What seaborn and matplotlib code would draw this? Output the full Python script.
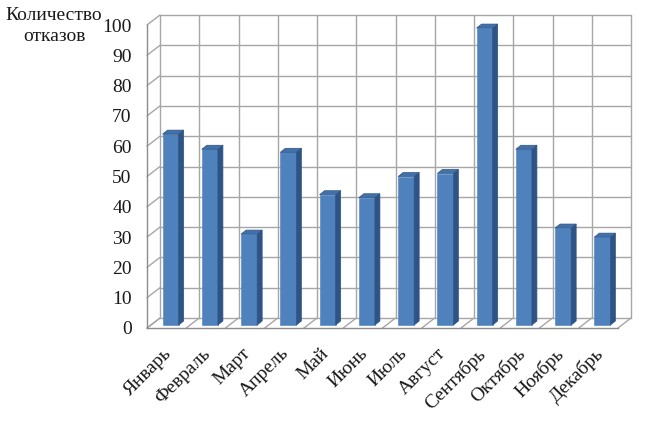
import matplotlib
matplotlib.use("Agg")
import matplotlib.pyplot as plt
import matplotlib.transforms as mtransforms
import seaborn as sns
import numpy as np
from matplotlib.patches import Polygon

# data
months = ["Январь", "Февраль", "Март", "Апрель", "Май", "Июнь",
          "Июль", "Август", "Сентябрь", "Октябрь", "Ноябрь", "Декабрь"]
failures = [63, 58, 30, 57, 43, 42, 49, 50, 98, 58, 32, 29]
y_ticks = list(range(0, 101, 10))
y_title = "Количество\nотказов"

FRONT = "#4F81BD"
SIDE = "#2E5486"
TOP = "#4270A8"
GRID = "#A6A6A6"
TEXT = "#1a1a1a"

sns.set_style("white")
plt.rcParams["font.family"] = ["Liberation Serif", "DejaVu Serif"]

W, H = 646, 438
fig = plt.figure(figsize=(W / 100, H / 100), dpi=100)
ax = fig.add_axes([147 / W, (H - 328) / H, 471 / W, 303 / H])

sns.barplot(x=months, y=failures, color=FRONT, saturation=1, width=0.41,
            ax=ax, zorder=3)
ax.set_xlim(-0.5, len(months) - 0.5)
ax.set_ylim(0, 100)

# pixel -> data unit scale
ux = 471 / len(months)
uy = 303 / 100
bx, by = 13 / ux, 10 / uy      # back wall offset
fx, fy = 4 / ux, 3 / uy        # bar front offset
dx, dy = 5 / ux, 4 / uy        # bar depth

x0, x1 = -0.5, len(months) - 0.5
kw = dict(color=GRID, lw=1, clip_on=False, zorder=1)
for t in y_ticks:
    ax.plot([x0 + bx, x1 + bx], [t + by, t + by], **kw)
    ax.plot([x0, x0 + bx], [t, t + by], **kw)
for b in np.arange(x0, x1 + 0.01, 1.0):
    ax.plot([b + bx, b + bx], [by, 100 + by], **kw)
    ax.plot([b, b + bx], [0, by], **kw)

# 3d look for the bars
for p in list(ax.patches):
    p.set_x(p.get_x() + fx)
    p.set_y(fy)
    p.set_edgecolor("#5b8cc6")
    p.set_linewidth(0.5)
    left = p.get_x()
    right = left + p.get_width()
    top = fy + p.get_height()
    ax.add_patch(Polygon([(right, fy), (right + dx, fy + dy),
                          (right + dx, top + dy), (right, top)],
                         closed=True, facecolor=SIDE, edgecolor=SIDE,
                         lw=0.5, zorder=3, clip_on=False))
    ax.add_patch(Polygon([(left, top), (right, top),
                          (right + dx, top + dy), (left + dx, top + dy)],
                         closed=True, facecolor=TOP, edgecolor=SIDE,
                         lw=0.5, zorder=3, clip_on=False))

for s in ["top", "right"]:
    ax.spines[s].set_visible(False)
for s in ["left", "bottom"]:
    ax.spines[s].set_color("#8C8C8C")
    ax.spines[s].set_linewidth(1)

ax.set_yticks(y_ticks)
ax.set_yticklabels([str(t) for t in y_ticks])
ax.tick_params(axis="y", direction="out", length=5, color="#8C8C8C",
               labelsize=14, pad=6, labelcolor=TEXT)
ax.set_xticks(range(len(months)))
ax.set_xticklabels(months, rotation=45, ha="right", rotation_mode="anchor")
ax.tick_params(axis="x", which="major", length=0, labelsize=14, pad=10,
               labelcolor=TEXT)
ax.set_xticks(np.arange(x0, x1 + 0.01, 1.0), minor=True)
ax.tick_params(axis="x", which="minor", direction="out", length=5,
               color="#8C8C8C")
shift = mtransforms.ScaledTranslation(-4 / 100, -3 / 100, fig.dpi_scale_trans)
for lbl in ax.get_xticklabels():
    lbl.set_transform(lbl.get_transform() + shift)
ax.set_xlabel("")
ax.set_ylabel("")

fig.text(54 / W, 1 - 26 / H, y_title, ha="center", va="center",
         fontsize=14, linespacing=1.3, color=TEXT)

fig.savefig("out.png", dpi=100)
